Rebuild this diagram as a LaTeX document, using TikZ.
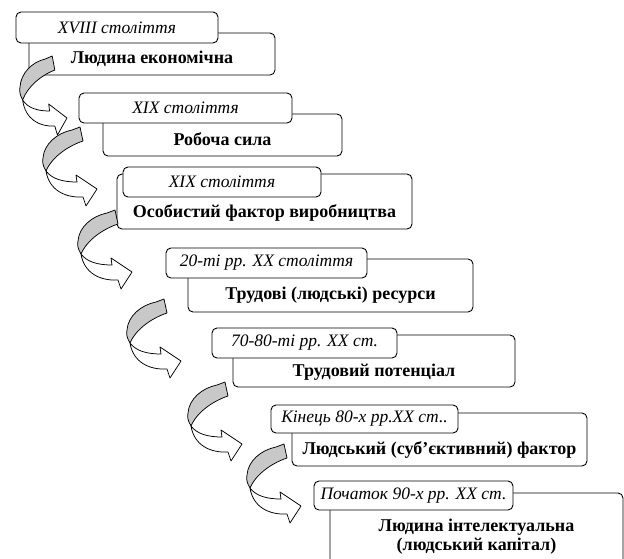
\documentclass[tikz,border=0pt]{standalone}
\usepackage{fontspec}
\setmainfont{Liberation Serif}
\definecolor{TurnGray}{HTML}{C8C8C8}
\usetikzlibrary{positioning}

\tikzset{
  turnarrow/.pic={
    % back face (gray)
    \filldraw[fill=TurnGray, line width=0.75pt]
      (29,-28) -- (37,-31) -- (40,-17)
      .. controls (25,-12) and (9,-1) .. (3,13)
      .. controls (0,8) and (-1,4) .. (0,0)
      .. controls (1,-14) and (14,-25) .. (29,-28) -- cycle;
    % front face (white) with head
    \filldraw[fill=white, line width=0.75pt]
      (3,13) .. controls (9,21) and (20,24) .. (34,24)
      -- (33,17) -- (54,31) -- (43,48) -- (40,39)
      .. controls (22,40) and (6,32) .. (3,13) -- cycle;
  }
}

\begin{document}
\begin{tikzpicture}[x=1pt, y=-1pt, line join=round,
    stagebox/.style={line width=0.9pt, rounded corners=5pt},
    datebox/.style={draw, line width=0.9pt, rounded corners=5pt, fill=white,
      inner sep=0pt, font=\fontsize{17.5}{20}\selectfont\itshape},
    stagetext/.style={font=\fontsize{18}{19}\selectfont\bfseries, align=center}]
  \useasboundingbox (0,0) rectangle (624,558);
  % Stage 1
  \draw[stagebox] (29,33) rectangle (275,75);
  \node[stagetext] (stage1) at (152,59) {Людина економічна};
  \node[datebox, minimum width=202pt, minimum height=31pt] (date1) at (117,27.5) {XVIII століття};
  % Stage 2
  \draw[stagebox] (103,114) rectangle (342,156);
  \node[stagetext] (stage2) at (222.5,139.5) {Робоча сила};
  \node[datebox, minimum width=213pt, minimum height=30pt] (date2) at (185.5,108) {XIX століття};
  % Stage 3
  \draw[stagebox] (117,174) rectangle (412,229);
  \node[stagetext] (stage3) at (264.5,213) {Особистий фактор виробництва};
  \node[datebox, minimum width=198pt, minimum height=30pt] (date3) at (222,182) {XIX століття};
  % Stage 4
  \draw[stagebox] (188,259) rectangle (473,312);
  \node[stagetext] (stage4) at (330.5,295) {Трудові (людські) ресурси};
  \node[datebox, minimum width=201pt, minimum height=30pt] (date4) at (266.5,263) {20-ті рр. XX століття};
  % Stage 5
  \draw[stagebox] (233,335) rectangle (515,387);
  \node[stagetext] (stage5) at (374,372.5) {Трудовий потенціал};
  \node[datebox, minimum width=185pt, minimum height=30pt] (date5) at (304.5,343) {70-80-ті рр. XX ст.};
  % Stage 6
  \draw[stagebox] (292,413) rectangle (587,466);
  \node[stagetext] (stage6) at (439.5,450) {Людський (суб’єктивний) фактор};
  \node[datebox, minimum width=187pt, minimum height=28pt] (date6) at (364.5,419) {Кінець 80-х рр.XX ст..};
  % Stage 7 (box runs past the bottom edge)
  \draw[stagebox] (330,493) rectangle (623,575);
  \node[stagetext] (stage7) at (476.5,537) {Людина інтелектуальна\\(людський капітал)};
  \node[datebox, minimum width=199pt, minimum height=29pt] (date7) at (413.5,495.5) {Початок 90-х рр. XX ст.};
  % Turning arrows between stages
  \pic[xscale=0.87] at (20,87) {turnarrow};
  \foreach \ax/\ay in {43/158, 78/241, 127/330, 188/413, 247/475}
    \pic at (\ax,\ay) {turnarrow};
\end{tikzpicture}
\end{document}
